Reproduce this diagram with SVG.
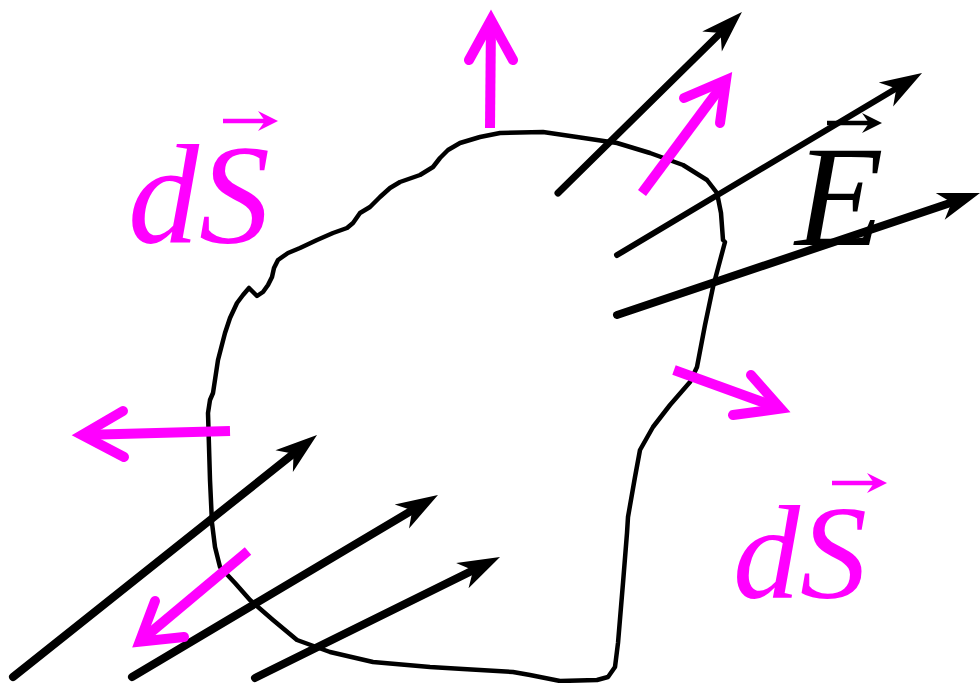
<svg xmlns="http://www.w3.org/2000/svg" width="980" height="683" viewBox="0 0 980 683">
<style>
.surf{fill:none;stroke:#000;stroke-width:4.5;stroke-linejoin:round;stroke-linecap:round}
.e{fill:none;stroke:#000;stroke-linecap:round;marker-end:url(#ah)}
.ns{fill:none;stroke:#FF00FF;stroke-width:10;stroke-linecap:butt}
.nh{fill:none;stroke:#FF00FF;stroke-width:10;stroke-linecap:round;stroke-linejoin:miter;stroke-miterlimit:10}
.vs{fill:none;stroke-width:4.5}
</style>
<defs>
<marker id="ah" markerUnits="userSpaceOnUse" viewBox="-44 -16 46 32" markerWidth="46" markerHeight="32" refX="-28" refY="0" orient="auto">
<path d="M0,0 L-42,-14 L-30,0 L-42,14 Z" fill="#000"/>
</marker>
<marker id="sa" markerUnits="userSpaceOnUse" viewBox="-22 -12 24 24" markerWidth="24" markerHeight="24" refX="-8" refY="0" orient="auto">
<path d="M0,0 L-20,-10 L-13,0 L-20,10 Z" fill="context-stroke"/>
</marker>
</defs>
<rect width="980" height="683" fill="#fff"/>
<g id="surface">
<path class="surf" d="M500,133 L543,132 L577,137 L617,143 L650,153 L683,165 L707,180 L717,193 L721,213 L723,240 L725,242 L713,287 L705,325 L697,367 L690,382 L670,405 L653,427 L640,450 L635,477 L628,517 L627,533 L623,583 L618,643 L615,667 L608,677 L597,680 L560,681 L530,675 L513,672 L463,669 L430,667 L373,662 L330,652 L297,640 L273,620 L250,600 L235,583 L220,567 L215,547 L212,523 L210,480 L208,413 L210,400 L213,393 L218,360 L225,333 L230,318 L237,303 L243,295 L249,288 L253,292 L257,296 L263,292 L268,285 L272,277 L274,268 L278,260 L288,253 L300,248 L317,240 L333,233 L347,228 L353,223 L360,213 L370,207 L380,197 L390,188 L400,182 L420,175 L433,167 L440,158 L448,150 L460,143 L480,137 Z"/>
</g>
<g id="connectors">
<g id="field">
<path class="e" stroke-width="7" d="M558,193 L722,31.6"/>
<path class="e" stroke-width="6" d="M617,255 L898,87.4"/>
<path class="e" stroke-width="8" d="M617,315 L953.5,201.9"/>
<path class="e" stroke-width="8" d="M13,677 L295.1,452.4"/>
<path class="e" stroke-width="8" d="M132,677 L413.9,509.3"/>
<path class="e" stroke-width="8" d="M255,678 L474.9,569.4"/>
</g>
<g id="normals">
<line class="ns" x1="490" y1="128" x2="491" y2="20"/>
<polyline class="nh" points="469,60 491,20 513,60"/>
<line class="ns" x1="642" y1="193" x2="726" y2="80"/>
<polyline class="nh" points="684,98 726,80 720,123"/>
<line class="ns" x1="674" y1="370" x2="780.6" y2="408.6"/>
<polyline class="nh" points="751,375 780.6,408.6 733,415"/>
<line class="ns" x1="230" y1="431" x2="82" y2="435"/>
<polyline class="nh" points="123,411 82,435 124,457"/>
<line class="ns" x1="248" y1="551" x2="139.7" y2="641.6"/>
<polyline class="nh" points="155,601 139.7,641.6 184,637"/>
</g>
</g>
<g id="label-dS-top">
<text x="128" y="243" font-family="'Liberation Serif', 'Times New Roman', serif" font-style="italic" font-size="142" fill="#FF00FF">dS</text>
<line class="vs" stroke="#FF00FF" x1="223" y1="121" x2="270" y2="121" marker-end="url(#sa)"/>
</g>
<g id="label-dS-bottom">
<text x="733" y="598" font-family="'Liberation Serif', 'Times New Roman', serif" font-style="italic" font-size="134" fill="#FF00FF">dS</text>
<line class="vs" stroke="#FF00FF" x1="832" y1="483" x2="879" y2="483" marker-end="url(#sa)"/>
</g>
<g id="label-E">
<text x="795" y="245" font-family="'Liberation Serif', 'Times New Roman', serif" font-style="italic" font-size="145" fill="#000">E</text>
<line class="vs" stroke="#000" x1="827" y1="123" x2="874" y2="123" marker-end="url(#sa)"/>
</g>
</svg>
